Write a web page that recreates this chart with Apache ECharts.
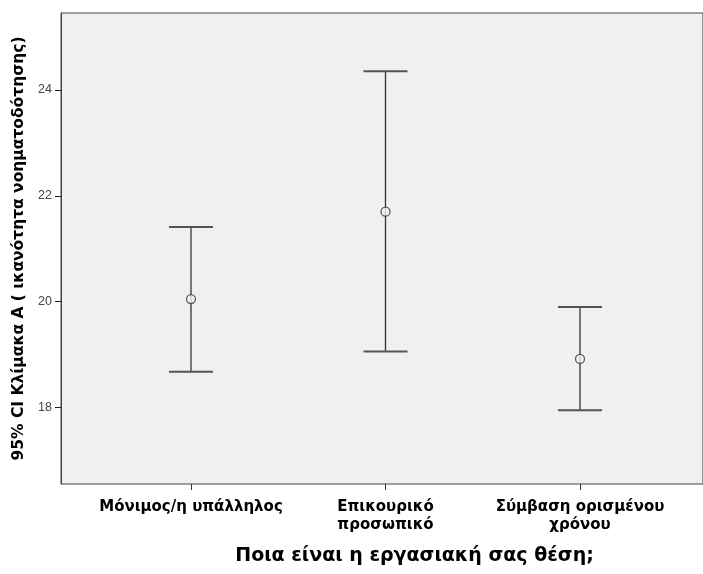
<!DOCTYPE html>
<html>
<head>
<meta charset="utf-8">
<script src="https://cdn.jsdelivr.net/npm/echarts@6/dist/echarts.min.js"></script>
<style>
  html, body { margin: 0; padding: 0; background: #ffffff; }
  #chart { width: 703px; height: 574px; }
</style>
</head>
<body>
<div id="chart"></div>
<script>
// Job position groups and the 95% confidence interval of scale A (meaning-making ability)
const categories = ['Μόνιμος/η υπάλληλος', 'Επικουρικό\nπροσωπικό', 'Σύμβαση ορισμένου\nχρόνου'];
const means = [20.05, 21.70, 18.92];
const lowerCI = [18.68, 19.06, 17.95];
const upperCI = [21.41, 24.35, 19.90];
const yTicks = [18, 20, 22, 24];

const yMin = 16.56;
const yMax = 25.45;

const plotTop = 13;
const plotHeight = 471;
const labelFont = '"DejaVu Sans", Verdana, sans-serif';

const chart = echarts.init(document.getElementById('chart'), null, { renderer: 'canvas' });

const barData = categories.map((c, i) => [i, lowerCI[i], upperCI[i]]);
const meanData = categories.map((c, i) => [i, means[i]]);

chart.setOption({
  animation: false,
  backgroundColor: '#ffffff',
  grid: [
    // plot frame with the value axis
    { left: 61, top: plotTop, width: 650, height: plotHeight, show: true,
      backgroundColor: '#f0f0f0', borderColor: '#444444', borderWidth: 1 },
    // group positions
    { left: 93.75, top: plotTop, width: 583.5, height: plotHeight }
  ],
  xAxis: [
    { gridIndex: 0, type: 'value', min: 0, max: 1, show: false },
    { gridIndex: 1, type: 'category', data: categories,
      axisLine: { show: false },
      axisTick: { show: true, alignWithLabel: true, length: 6, lineStyle: { color: '#333333', width: 1 } },
      axisLabel: { margin: 14, color: '#000000', fontFamily: labelFont,
        fontSize: 15, fontWeight: 'bold', lineHeight: 18, interval: 0 },
      splitLine: { show: false } }
  ],
  yAxis: [
    { gridIndex: 0, type: 'value', min: yMin, max: yMax,
      name: '95% CI Κλίμακα Α ( ικανότητα νοηματοδότησης)',
      nameLocation: 'middle', nameRotate: 90, nameGap: 32,
      nameTextStyle: { color: '#000000', fontFamily: labelFont,
        fontSize: 15.5, fontWeight: 'bold' },
      axisLine: { show: true, lineStyle: { color: '#444444' } },
      axisTick: { show: true, inside: false, length: 6, customValues: yTicks,
        lineStyle: { color: '#222222', width: 1 } },
      axisLabel: { customValues: yTicks, margin: 9, color: '#444444',
        fontFamily: 'Liberation Sans, Arial, sans-serif', fontSize: 12.5 },
      splitLine: { show: false } },
    { gridIndex: 1, type: 'value', min: yMin, max: yMax, show: false }
  ],
  series: [
    {
      type: 'custom',
      xAxisIndex: 1, yAxisIndex: 1,
      data: barData,
      renderItem: function (params, api) {
        const lo = api.coord([api.value(0), api.value(1)]);
        const hi = api.coord([api.value(0), api.value(2)]);
        const half = 22;
        const capStyle = { stroke: '#555555', lineWidth: 2 };
        return {
          type: 'group',
          children: [
            { type: 'line', shape: { x1: lo[0], y1: lo[1], x2: hi[0], y2: hi[1] },
              style: { stroke: '#333333', lineWidth: 1.3 } },
            { type: 'line', shape: { x1: hi[0] - half, y1: hi[1], x2: hi[0] + half, y2: hi[1] }, style: capStyle },
            { type: 'line', shape: { x1: lo[0] - half, y1: lo[1], x2: lo[0] + half, y2: lo[1] }, style: capStyle }
          ]
        };
      },
      z: 2
    },
    {
      type: 'scatter',
      xAxisIndex: 1, yAxisIndex: 1,
      data: meanData,
      symbol: 'circle',
      symbolSize: 9,
      itemStyle: { color: '#f0f0f0', borderColor: '#333333', borderWidth: 1.3 },
      z: 3
    }
  ],
  graphic: [
    { type: 'text', x: 414.5, y: 547,
      style: { text: 'Ποια είναι η εργασιακή σας θέση;', textAlign: 'center', fill: '#000000',
        font: 'bold 19px "DejaVu Sans", Verdana, sans-serif' } }
  ]
});
</script>
</body>
</html>
